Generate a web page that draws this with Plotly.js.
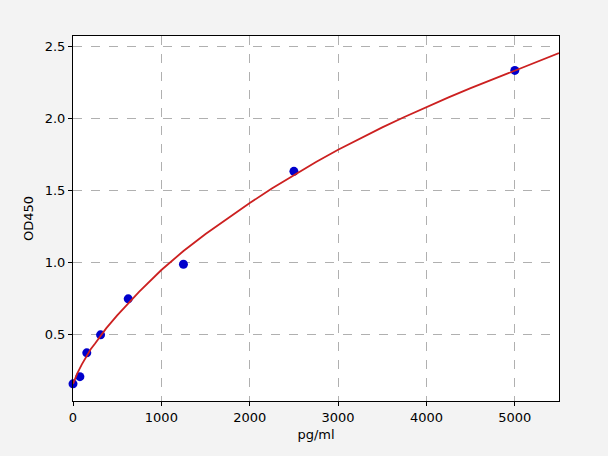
<!DOCTYPE html>
<html>
<head>
<meta charset="utf-8">
<script src="https://cdn.plot.ly/plotly-3.0.1.min.js"></script>
<style>
  body { margin: 0; background: #f3f3f3; }
  #chart { width: 608px; height: 456px; }
</style>
</head>
<body>
<div id="chart"></div>
<script>
// standard points (concentration, OD)
var conc = [0, 78, 156, 312, 625, 1250, 2500, 5000];
var od = [0.16, 0.21, 0.375, 0.50, 0.75, 0.99, 1.635, 2.335];

// fitted curve
var fitX = [0, 25, 50, 100, 150, 200, 250, 375, 500, 625, 750, 1000, 1250, 1500, 1750, 2000, 2250, 2500, 2750,
            3000, 3250, 3500, 3750, 4000, 4250, 4500, 4750, 5000, 5250, 5500];
var fitY = [0.16, 0.20, 0.235, 0.295, 0.35, 0.40, 0.44, 0.545, 0.635, 0.72, 0.80, 0.95, 1.082, 1.20, 1.31, 1.415, 1.515, 1.61, 1.70,
            1.785, 1.865, 1.94, 2.012, 2.081, 2.148, 2.212, 2.274, 2.335, 2.395, 2.455];

var xTicks = [0, 1000, 2000, 3000, 4000, 5000];
var yTicks = [0.5, 1.0, 1.5, 2.0, 2.5];

var points = {
  x: conc,
  y: od,
  type: 'scatter',
  mode: 'markers',
  marker: {color: '#0000cc', size: 9},
  cliponaxis: false,
  showlegend: false
};

var curve = {
  x: fitX,
  y: fitY,
  type: 'scatter',
  mode: 'lines',
  line: {color: '#cc2020', width: 1.8},
  showlegend: false
};

var axisStyle = {
  showline: true,
  linecolor: '#000',
  linewidth: 1,
  mirror: true,
  ticks: 'outside',
  ticklen: 4,
  tickcolor: '#000',
  showgrid: true,
  gridcolor: '#b0b0b0',
  griddash: 'dash',
  gridwidth: 1,
  zeroline: false,
  tickfont: {size: 13, color: '#000'}
};

var layout = {
  width: 608,
  height: 456,
  paper_bgcolor: '#f3f3f3',
  plot_bgcolor: '#fff',
  font: {family: 'DejaVu Sans', size: 13, color: '#000'},
  margin: {l: 73, r: 49, t: 36, b: 55, pad: 0},
  xaxis: Object.assign({}, axisStyle, {
    range: [0, 5500],
    tickvals: xTicks,
    ticktext: xTicks.map(String),
    title: {text: 'pg/ml', font: {size: 13}, standoff: 6}
  }),
  yaxis: Object.assign({}, axisStyle, {
    range: [0.041, 2.574],
    tickvals: yTicks,
    ticktext: yTicks.map(function (v) { return v.toFixed(1); }),
    title: {text: 'OD450', font: {size: 13}, standoff: 8}
  })
};

Plotly.newPlot('chart', [points, curve], layout, {displayModeBar: false});
</script>
</body>
</html>
